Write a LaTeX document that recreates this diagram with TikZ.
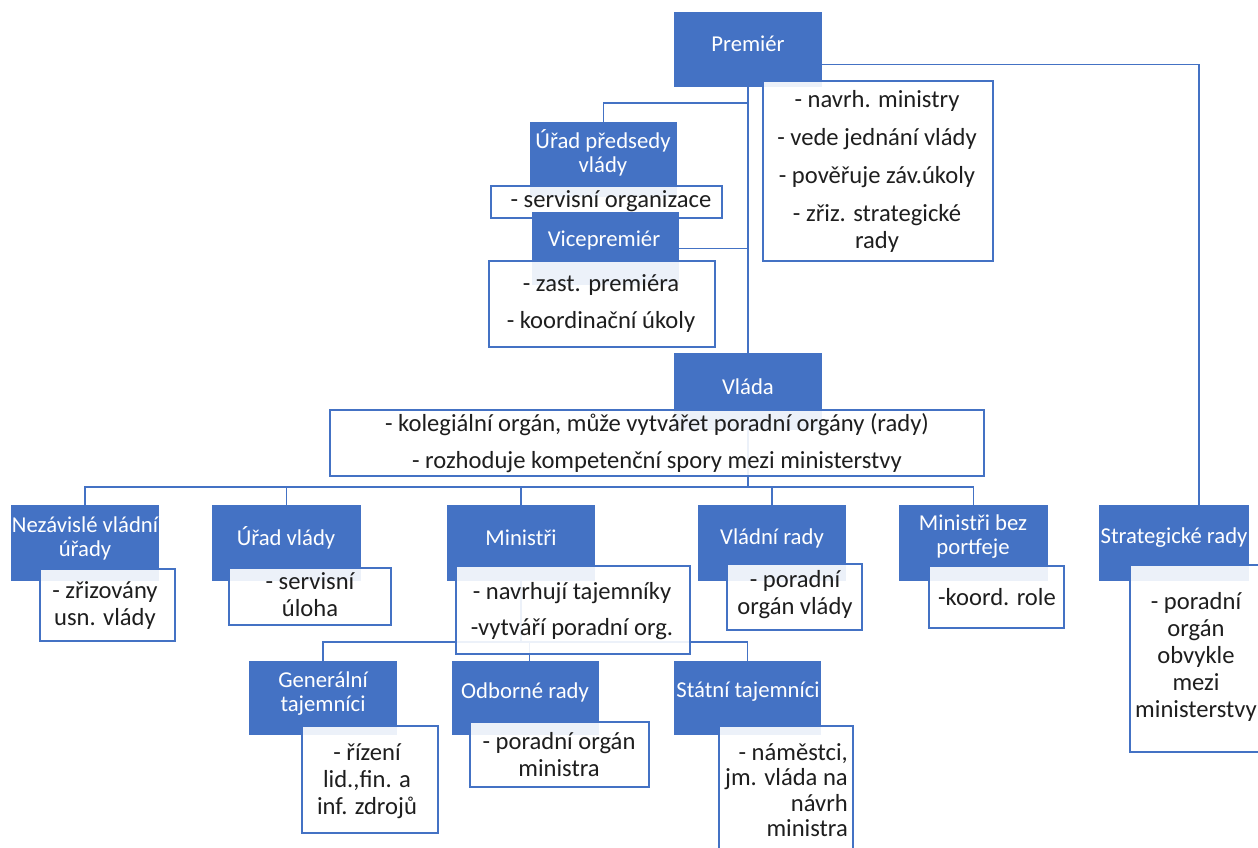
\documentclass[tikz,border=0pt]{standalone}
\usepackage{fontspec}
\setmainfont{Carlito}
\definecolor{blu}{HTML}{4472C4}
\definecolor{ink}{HTML}{1E1E1E}
\tikzset{
  conn/.style={draw=blu, line width=1.6pt},
  bluebox/.style={rectangle, fill=blu, draw=none, inner sep=0pt, outer sep=0pt},
  notebox/.style={rectangle, fill=white, fill opacity=0.9, draw=blu, line width=1.4pt, inner sep=0pt, outer sep=0pt},
  btext/.style={text=white, align=center, inner sep=0pt, font=\fontsize{22.7}{24}\selectfont},
  wtext/.style={text=ink, align=center, inner sep=0pt, font=\fontsize{24.6}{27}\selectfont},
}
% box from its two corners: style, name, x1, y1, x2, y2
\newcommand\orgbox[6]{%
  \node[#1, minimum width={(#5-#3)*1pt}, minimum height={(#6-#4)*1pt}]
    (#2) at ({(#3+#5)/2},{(#4+#6)/2}) {};}
\pgfdeclarelayer{back}
\pgfsetlayers{back,main}
\begin{document}
\begin{tikzpicture}[x=1pt,y=-1pt]
\useasboundingbox (0,0) rectangle (1258,847);

\coordinate (jUpv) at (748,103);
\coordinate (hV) at (0,487);
\coordinate (hM) at (0,642);

% ---------- Premiér ----------
\orgbox{bluebox}{prem}{674}{12}{822}{87}
\node[btext] (tPrem) at (748,44) {Premiér};
\orgbox{notebox}{premw}{763}{81}{993}{261}
\node[wtext] (tPremw) at (877,171) {- navrh. ministry\\[11pt]- vede jednání vlády\\[11pt]- pověřuje záv.úkoly\\[11pt]- zřiz. strategické\\rady};

% ---------- Úřad předsedy vlády ----------
\orgbox{bluebox}{upv}{530}{122}{677}{197}
\node[btext] (tUpv) at (603,153) {Úřad předsedy\\vlády};
\orgbox{notebox}{upvw}{491}{186}{722}{218}
\node[wtext] (tUpvw) at (611,201) {- servisní organizace};

% ---------- Vicepremiér ----------
\orgbox{bluebox}{vice}{532}{212}{679}{285}
\node[btext] (tVice) at (604,241) {Vicepremiér};
\orgbox{notebox}{vicew}{489}{261}{715}{347}
\node[wtext] (tVicew) at (601,304) {- zast. premiéra\\[10pt]- koordinační úkoly};

% ---------- Vláda ----------
\orgbox{bluebox}{vlada}{674}{353}{822}{430}
\node[btext] (tVlada) at (748,387) {Vláda};
\orgbox{notebox}{vladaw}{330}{410}{984}{476}
\node[wtext] (tVladaw) at (657,443) {- kolegiální orgán, může vytvářet poradní orgány (rady)\\[10pt]- rozhoduje kompetenční spory mezi ministerstvy};

% ---------- second row ----------
\orgbox{bluebox}{nez}{11}{505}{159}{581}
\node[btext] (tNez) at (85,538) {Nezávislé vládní\\úřady};
\orgbox{notebox}{nezw}{40}{569}{175}{641}
\node[wtext] (tNezw) at (105,606) {- zřizovány\\usn. vlády};

\orgbox{bluebox}{uv}{212}{505}{361}{581}
\node[btext] (tUv) at (286,538) {Úřad vlády};
\orgbox{notebox}{uvw}{229}{568}{391}{625}
\node[wtext] (tUvw) at (310,595) {- servisní\\úloha};

\orgbox{bluebox}{min}{447}{505}{595}{581}
\node[btext] (tMin) at (521,538) {Ministři};
\orgbox{notebox}{minw}{456}{566}{690}{654}
\node[wtext] (tMinw) at (572,611) {- navrhují tajemníky\\[9pt]-vytváří poradní org.};

\orgbox{bluebox}{vr}{698}{505}{846}{581}
\node[btext] (tVr) at (772,538) {Vládní rady};
\orgbox{notebox}{vrw}{727}{564}{862}{630}
\node[wtext] (tVrw) at (795,595) {- poradní\\orgán vlády};

\orgbox{bluebox}{mbp}{899}{505}{1048}{581}
\node[btext] (tMbp) at (973,537) {Ministři bez\\portfeje};
\orgbox{notebox}{mbpw}{929}{566}{1064}{628}
\node[wtext] (tMbpw) at (997,597) {-koord. role};

\orgbox{bluebox}{str}{1099}{505}{1249}{581}
\node[btext] (tStr) at (1174,538) {Strategické rady};
\orgbox{notebox}{strw}{1130}{565}{1272}{752}
\node[wtext] (tStrw) at (1196,657) {- poradní\\orgán\\obvykle\\mezi\\ministerstvy};

% ---------- third row ----------
\orgbox{bluebox}{gen}{249}{661}{397}{735}
\node[btext] (tGen) at (323,694) {Generální\\tajemníci};
\orgbox{notebox}{genw}{302}{726}{438}{833}
\node[wtext] (tGenw) at (367,781) {- řízení\\lid.,fin. a\\inf. zdrojů};

\orgbox{bluebox}{odb}{452}{661}{599}{735}
\node[btext] (tOdb) at (525,692) {Odborné rady};
\orgbox{notebox}{odbw}{470}{722}{649}{787}
\node[wtext] (tOdbw) at (559,755) {- poradní orgán\\ministra};

\orgbox{bluebox}{stat}{674}{661}{821}{735}
\node[btext] (tStat) at (748,692) {Státní tajemníci};
\orgbox{notebox}{statw}{719}{726}{853}{870}
\node[wtext, align=right, anchor=east, font=\fontsize{24.6}{25.5}\selectfont] (tStatw) at (848,790) {- náměstci,\\jm. vláda na\\návrh\\ministra};

% ---------- connectors, kept beneath the boxes ----------
\begin{pgfonlayer}{back}
  \draw[conn] (prem.south) -- (vlada.north);
  \draw[conn] (jUpv) -| (upv.north);
  \draw[conn] (vice.east) -- (vice.east -| prem.south);
  \draw[conn] ([yshift=-15pt]prem.east) -| ([xshift=25pt]str.north);
  \draw[conn] (vlada.south) -- (vlada.south |- hV);
  \draw[conn] (nez.north) -- (nez.north |- hV) -| (mbp.north);
  \draw[conn] (uv.north) -- (uv.north |- hV);
  \draw[conn] (min.north) -- (min.north |- hV);
  \draw[conn] (vr.north) -- (vr.north |- hV);
  \draw[conn] (min.south) -- (min.south |- hM);
  \draw[conn] (gen.north) -- (gen.north |- hM) -| (stat.north);
  \draw[conn] ([xshift=4pt]odb.north) -- ([xshift=4pt]odb.north |- hM);
\end{pgfonlayer}
\end{tikzpicture}
\end{document}
